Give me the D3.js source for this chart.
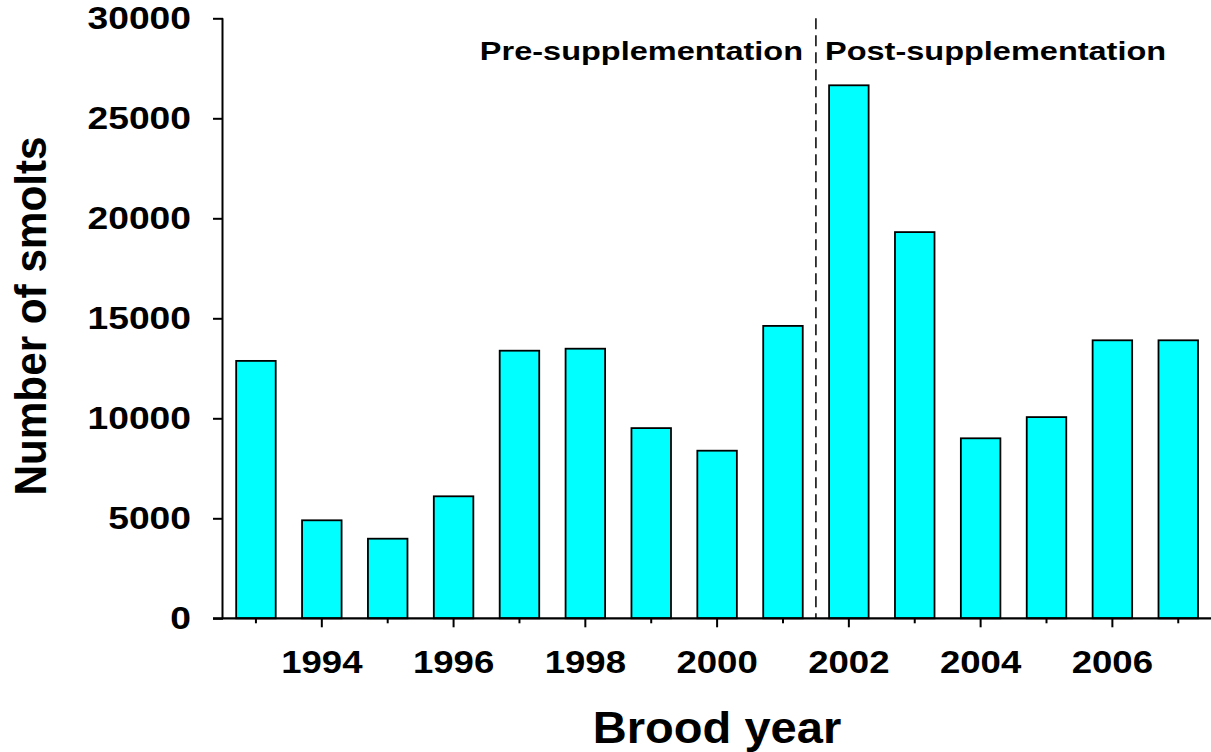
<!DOCTYPE html>
<html>
<head>
<meta charset="utf-8">
<script src="https://cdn.jsdelivr.net/npm/d3@7"></script>
<style>
html,body{margin:0;padding:0;background:#fff;}
svg{display:block;}
text{font-family:"Liberation Sans",Arial,sans-serif;font-weight:bold;fill:#000;}
</style>
</head>
<body>
<script>
const years = [1993,1994,1995,1996,1997,1998,1999,2000,2001,2002,2003,2004,2005,2006,2007];
const smolts = [12870,4900,3980,6100,13380,13480,9510,8380,14620,26650,19310,9000,10060,13900,13900];
const yTicks = [0,5000,10000,15000,20000,25000,30000];
const xLabelYears = [1994,1996,1998,2000,2002,2004,2006];
const xMinorYears = [1993,1995,1997,1999,2001,2003,2005,2007];
const splitAfter = 2001;
const labels = {x:"Brood year", y:"Number of smolts", pre:"Pre-supplementation", post:"Post-supplementation"};

const W = 1211, H = 752;
const L = 223, R = 1211.2, T = 18.3, B = 618.3;

const svg = d3.select("body").append("svg").attr("width", W).attr("height", H);

const x = d3.scaleBand().domain(years).range([L, R]).paddingInner(0.40).paddingOuter(0.20);
const y = d3.scaleLinear().domain([0, 30000]).range([B, T]);

// bars
svg.append("g").selectAll("rect").data(years).join("rect")
  .attr("x", (d) => x(d))
  .attr("width", x.bandwidth())
  .attr("y", (d, i) => y(smolts[i]))
  .attr("height", (d, i) => B - y(smolts[i]))
  .attr("fill", "#00ffff")
  .attr("stroke", "#000")
  .attr("stroke-width", 1.8);

// dashed separator
const ia = years.indexOf(splitAfter);
const sepX = (x(years[ia]) + x.bandwidth() + x(years[ia+1])) / 2;
svg.append("line")
  .attr("x1", sepX).attr("x2", sepX)
  .attr("y1", T).attr("y2", B)
  .attr("stroke", "#000").attr("stroke-width", 1.5)
  .attr("stroke-dasharray", "11,6");

// y axis
const yAxis = svg.append("g").attr("transform", `translate(${L},0)`)
  .call(d3.axisLeft(y).tickValues(yTicks).tickSize(10).tickFormat(""));
yAxis.select(".domain").attr("d", `M-0.5,${T}V${B}`).attr("stroke-width", 2);
yAxis.selectAll(".tick line").attr("stroke-width", 2);

// y tick labels
const ylab = svg.append("g");
ylab.selectAll("g").data(yTicks).join("g")
  .attr("transform", (d) => `translate(191,${y(d)}) scale(1.2,1)`)
  .append("text")
  .attr("text-anchor", "end")
  .attr("dy", "0.36em")
  .style("font-size", "31px")
  .text((d) => d);

// x axis
const xc = (d) => x(d) + x.bandwidth() / 2;
const xAxisMajor = svg.append("g").attr("transform", `translate(0,${B})`)
  .call(d3.axisBottom(d3.scaleLinear().domain([0,1]).range([0,1])).tickValues([]).tickSize(0));
xAxisMajor.select(".domain").attr("d", `M${L-10},0H${W}`).attr("stroke-width", 2.2);

svg.append("g").selectAll("line").data(xLabelYears).join("line")
  .attr("x1", xc).attr("x2", xc)
  .attr("y1", B).attr("y2", B + 9)
  .attr("stroke", "#000").attr("stroke-width", 2);
svg.append("g").selectAll("line").data(xMinorYears).join("line")
  .attr("x1", xc).attr("x2", xc)
  .attr("y1", B).attr("y2", B + 5)
  .attr("stroke", "#000").attr("stroke-width", 2);

svg.append("g").selectAll("g").data(xLabelYears).join("g")
  .attr("transform", (d) => `translate(${xc(d)},673) scale(1.18,1)`)
  .append("text")
  .attr("text-anchor", "middle")
  .style("font-size", "31px")
  .text((d) => d);

// x title
svg.append("g").attr("transform", `translate(717,743) scale(1.07,1)`)
  .append("text").attr("text-anchor", "middle").style("font-size", "44px").text(labels.x);

// y title
svg.append("g").attr("transform", `translate(46,316) rotate(-90) scale(0.96,1)`)
  .append("text").attr("text-anchor", "middle").style("font-size", "44px").text(labels.y);

// annotations
svg.append("g").attr("transform", `translate(803,60) scale(1.3,1)`)
  .append("text").attr("text-anchor", "end").style("font-size", "25px").text(labels.pre);
svg.append("g").attr("transform", `translate(825,60) scale(1.3,1)`)
  .append("text").attr("text-anchor", "start").style("font-size", "25px").text(labels.post);
</script>
</body>
</html>
